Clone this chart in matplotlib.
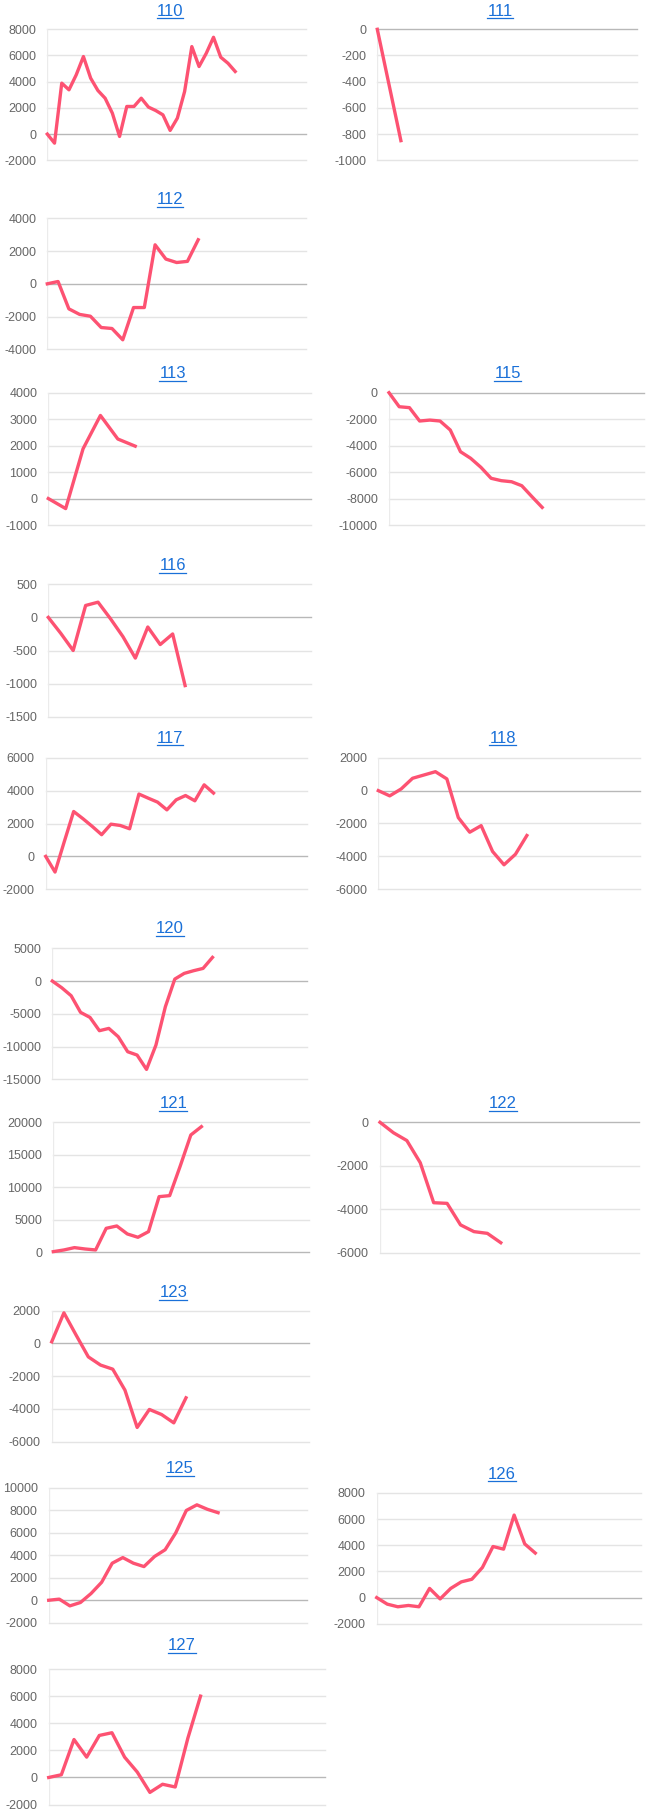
import matplotlib
matplotlib.use('Agg')
import matplotlib.pyplot as plt
from matplotlib.lines import Line2D
import numpy as np

plt.rcParams['font.family'] = ['Liberation Sans', 'DejaVu Sans']
plt.rcParams['axes.unicode_minus'] = False

W, H = 649, 1816
fig = plt.figure(figsize=(W / 100, H / 100), dpi=100)

titles = ["110", "111", "112", "113", "115", "116", "117", "118",
          "120", "121", "122", "123", "125", "126", "127"]

s110 = [0, -690, 3890, 3380, 4520, 5920, 4270, 3330, 2740, 1600, -180, 2110,
        2110, 2740, 2060, 1800, 1470, 280, 1220, 3250, 6680, 5160, 6170, 7390,
        5870, 5410, 4780]
s111 = [0, -850]
s112 = [0, 140, -1530, -1870, -1980, -2670, -2730, -3420, -1450, -1450, 2380,
        1510, 1300, 1370, 2690]
s113 = [0, -380, 1880, 3140, 2250, 1980]
s115 = [0, -1060, -1130, -2140, -2070, -2140, -2820, -4460, -4960, -5640,
        -6470, -6650, -6730, -7030, -7860, -8670]
s116 = [0, -240, -500, 180, 230, -20, -290, -615, -145, -410, -250, -1030]
s117 = [0, -950, 910, 2730, 2290, 1820, 1320, 1960, 1880, 1680, 3790, 3540,
        3300, 2830, 3440, 3700, 3380, 4350, 3850]
s118 = [0, -320, 100, 750, 950, 1150, 710, -1640, -2530, -2130, -3700, -4510,
        -3870, -2730]
s120 = [0, -1020, -2240, -4780, -5550, -7580, -7230, -8500, -10790, -11300,
        -13490, -9770, -3920, 300, 1170, 1580, 1930, 3610]
s121 = [100, 360, 720, 510, 360, 3690, 4050, 2820, 2310, 3180, 8560, 8720,
        13280, 18050, 19330]
s122 = [0, -480, -840, -1860, -3700, -3730, -4720, -5030, -5110, -5540]
s123 = [100, 1870, 510, -820, -1320, -1570, -2850, -5130, -4030, -4340,
        -4850, -3320]
s125 = [0, 100, -500, -200, 600, 1600, 3300, 3800, 3300, 3000, 3900, 4500,
        6000, 8000, 8500, 8100, 7800]
s126 = [0, -500, -700, -600, -700, 700, -100, 700, 1200, 1400, 2300, 3900,
        3700, 6300, 4100, 3400]
s127 = [0, 200, 2800, 1500, 3100, 3300, 1500, 400, -1100, -500, -700, 2900,
        6000]

series = {"110": s110, "111": s111, "112": s112, "113": s113, "115": s115,
          "116": s116, "117": s117, "118": s118, "120": s120, "121": s121,
          "122": s122, "123": s123, "125": s125, "126": s126, "127": s127}

yranges = {"110": (-2000, 8000, 2000), "111": (-1000, 0, 200),
           "112": (-4000, 4000, 2000), "113": (-1000, 4000, 1000),
           "115": (-10000, 0, 2000), "116": (-1500, 500, 500),
           "117": (-2000, 6000, 2000), "118": (-6000, 2000, 2000),
           "120": (-15000, 5000, 5000), "121": (0, 20000, 5000),
           "122": (-6000, 0, 2000), "123": (-6000, 2000, 2000),
           "125": (-2000, 10000, 2000), "126": (-2000, 8000, 2000),
           "127": (-2000, 8000, 2000)}

# layout in pixels: left, top, right, bottom, x-span (slots), title x, title y
layout = {
    "110": (47.3, 29.3, 306.0, 160.3, 35.8, 170.0, 11.0),
    "111": (377.3, 29.3, 636.7, 160.3, 11.0, 500.0, 11.0),
    "112": (47.3, 218.3, 306.0, 349.3, 24.0, 170.0, 200.0),
    "113": (48.3, 392.7, 310.7, 525.0, 15.1, 172.7, 374.0),
    "115": (389.0, 392.7, 644.3, 525.0, 25.0, 507.7, 374.0),
    "116": (48.3, 584.3, 310.7, 716.7, 21.1, 172.7, 566.0),
    "117": (45.7, 757.7, 306.7, 889.3, 28.0, 170.0, 738.3),
    "118": (378.3, 757.7, 640.0, 889.3, 22.9, 502.7, 738.3),
    "120": (52.3, 948.3, 306.7, 1079.3, 27.0, 170.0, 929.0),
    "121": (53.3, 1122.3, 309.3, 1252.3, 24.2, 173.3, 1104.0),
    "122": (380.0, 1122.3, 639.0, 1252.7, 19.3, 502.7, 1104.0),
    "123": (51.7, 1310.7, 309.3, 1441.7, 21.1, 173.3, 1292.7),
    "125": (48.7, 1488.0, 307.0, 1622.7, 24.4, 179.6, 1468.5),
    "126": (376.7, 1492.8, 641.0, 1623.8, 25.0, 501.8, 1474.3),
    "127": (48.7, 1669.0, 324.5, 1804.6, 21.8, 182.0, 1645.8),
}

LINE = '#fd5272'
GRID = '#e4e4e4'
ZERO = '#b8b8b8'
LINK = '#1a70d8'

title_texts = []
for name in titles:
    l, t, r, b, span, tx, ty = layout[name]
    ymin, ymax, step = yranges[name]
    ax = fig.add_axes([l / W, 1 - b / H, (r - l) / W, (b - t) / H])
    vals = series[name]
    ax.plot(range(len(vals)), vals, color=LINE, lw=2.4, clip_on=False,
            solid_joinstyle='round', zorder=3)
    ax.set_xlim(0, span)
    ax.set_ylim(ymin, ymax)
    ticks = np.arange(ymin, ymax + step / 2, step)
    ax.set_yticks(ticks)
    ax.set_yticklabels([str(int(v)) for v in ticks])
    for yv in ticks:
        ax.axhline(yv, color=(ZERO if yv == 0 else GRID), lw=1.0,
                   zorder=(1 if yv == 0 else 0), clip_on=False)
    ax.axvline(0, color='#ebebeb', lw=1.0, zorder=0)
    for sp in ax.spines.values():
        sp.set_visible(False)
    ax.tick_params(axis='y', length=0, pad=8.0, labelsize=9.0,
                   labelcolor='#666666')
    ax.set_xticks([])
    ax.patch.set_alpha(0)
    txt = fig.text(tx / W, 1 - ty / H, name, ha='center', va='center',
                   color=LINK, fontsize=12)
    title_texts.append(txt)

fig.canvas.draw()
renderer = fig.canvas.get_renderer()
for txt in title_texts:
    bb = txt.get_window_extent(renderer)
    yline = bb.y0 + 0.5
    fig.add_artist(Line2D([bb.x0 / W, bb.x1 / W], [yline / H, yline / H],
                          transform=fig.transFigure, color=LINK, lw=0.9))

fig.savefig('out.png', dpi=100, facecolor='white')
